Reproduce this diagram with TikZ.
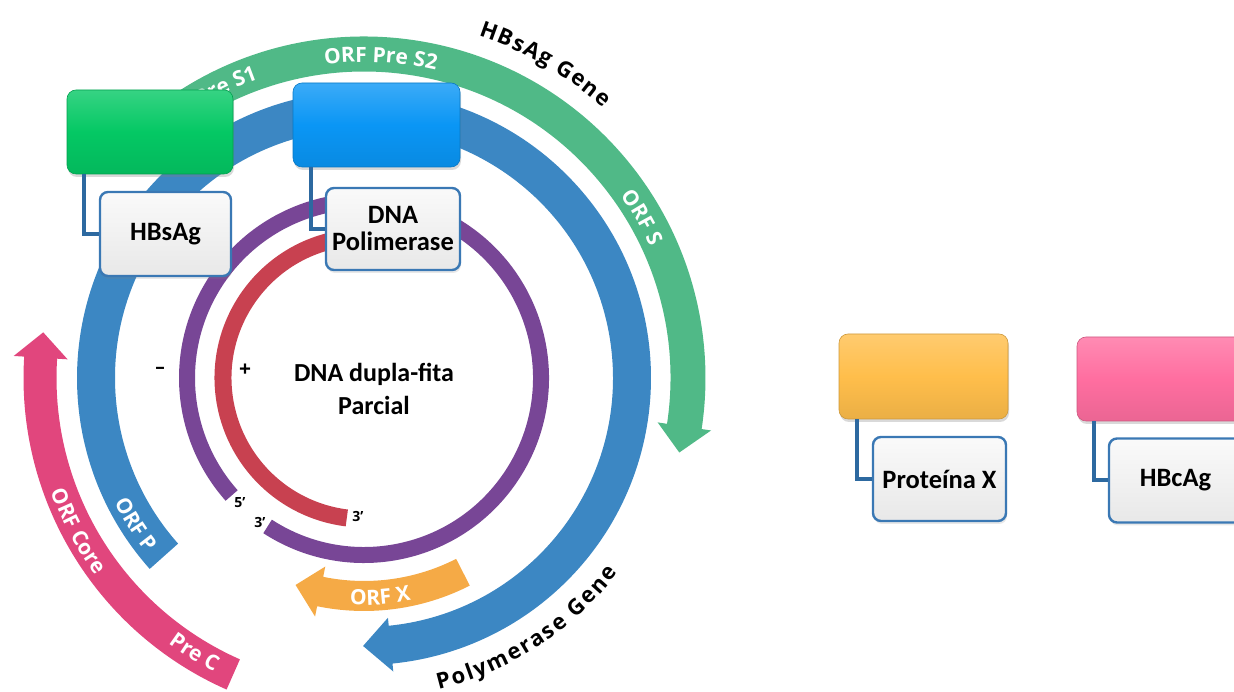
\documentclass[tikz,border=0pt]{standalone}
\usepackage{fontspec}
\setmainfont{Carlito}
\newfontfamily\ringfont{Open Sans}
\usetikzlibrary{decorations.text,shadows}

% ring colours
\definecolor{ringgreen}{RGB}{80,185,135}
\definecolor{ringblue}{RGB}{60,135,195}
\definecolor{ringpink}{RGB}{225,70,125}
\definecolor{ringorange}{RGB}{245,170,70}
\definecolor{strandminus}{RGB}{120,70,150}
\definecolor{strandplus}{RGB}{200,65,80}
% box colours
\definecolor{capgreen}{RGB}{4,200,100}
\definecolor{capblue}{RGB}{10,150,245}
\definecolor{caporange}{RGB}{255,190,75}
\definecolor{cappink}{RGB}{255,110,160}
\definecolor{linkblue}{RGB}{45,105,160}
\definecolor{tagborder}{RGB}{58,120,180}

\newcommand\ringtxt{\ringfont\bfseries\fontsize{21}{21}\selectfont}
\newcommand\genetxt{\ringfont\bfseries\fontsize{22}{22}\selectfont}
\newcommand\tagtxt{\bfseries\fontsize{26.5}{27}\selectfont}
\newcommand\strandtxt{\ringfont\bfseries\fontsize{14}{14}\selectfont}

% curved arrow band around the origin of the current scope
% #1 colour, #2 radius, #3 band width, #4 tail angle, #5 head base angle,
% #6 tip angle, #7 half width of the head
\newcommand\ringarrow[7]{%
  \pgfmathsetmacro\rao{#2+#3/2}%
  \pgfmathsetmacro\rai{#2-#3/2}%
  \pgfmathsetmacro\rhao{#2+#7}%
  \pgfmathsetmacro\rhai{#2-#7}%
  \fill[#1] (#4:\rao) arc[start angle=#4, end angle=#5, radius=\rao]
    -- (#5:\rhao) -- (#6:#2) -- (#5:\rhai) -- (#5:\rai)
    arc[start angle=#5, end angle=#4, radius=\rai] -- cycle;%
}

\begin{document}
\begin{tikzpicture}[x=1pt, y=1pt,
  capbox/.style={rounded corners=9pt, minimum width=166pt, minimum height=84pt,
    inner sep=0pt, draw=#1!80!black, line width=0.6pt,
    top color=#1!80!white, bottom color=#1!92!black, middle color=#1,
    drop shadow={shadow xshift=1pt, shadow yshift=-3pt, opacity=0.3}},
  tagbox/.style={rounded corners=8pt, minimum width=131pt, minimum height=84pt,
    inner sep=2pt, draw=tagborder, line width=2.4pt,
    top color=white!98!black, bottom color=white!91!black,
    font=\tagtxt, align=center,
    drop shadow={shadow xshift=1pt, shadow yshift=-3pt, opacity=0.18}},
  link/.style={draw=linkblue, line width=4pt},
  bandtext/.style={decorate, decoration={text along path, text align=center, text color=white}},
  genetext/.style={decorate, decoration={text along path, text align={fit to path}, text color=black}},
  strandlabel/.style={font=\strandtxt, inner sep=0pt}
]
\useasboundingbox (0,0) rectangle (1234,692);
\clip (0,0) rectangle (1234,692);

% ---- genome map ----
\begin{scope}[shift={(364,314)}]
  \ringarrow{ringgreen}{324}{35}{128}{-8.6}{-13.3}{27}
  \ringarrow{ringblue}{268}{38}{221.7}{-84.3}{-90.2}{27}
  \ringarrow{ringpink}{324}{33}{246.2}{176.4}{171.9}{27}
  \ringarrow{ringorange}{218}{30}{-63}{-101.6}{-108.3}{25.5}
  % DNA strands
  \draw[strandminus, line width=16pt] (237:177) arc[start angle=237, end angle=581.6, radius=177];
  \draw[strandplus, line width=17pt] (98:141) arc[start angle=98, end angle=263, radius=141];

  % labels written along the bands
  \path[bandtext, decoration={text={|\ringtxt|ORF Pre S2}}]
    (117:316) arc[start angle=117, end angle=57, radius=316];
  \path[bandtext, decoration={text align=right, text={|\ringtxt|Pre S1}}]
    (140:317) arc[start angle=140, end angle=109.5, radius=317];
  \path[bandtext, decoration={text={|\ringtxt|ORF S}}]
    (50:315) arc[start angle=50, end angle=10, radius=315];
  \path[bandtext, decoration={text={|\ringtxt|ORF P}}]
    (192.7:279) arc[start angle=192.7, end angle=232.7, radius=279];
  \path[bandtext, decoration={text={|\ringtxt|ORF Core}}]
    (188.2:333) arc[start angle=188.2, end angle=228.2, radius=333];
  \path[bandtext, decoration={text={|\ringtxt|Pre C}}]
    (223.3:330) arc[start angle=223.3, end angle=253.3, radius=330];
  \path[bandtext, decoration={text={|\ringtxt|ORF X}}]
    (-105.8:227) arc[start angle=-105.8, end angle=-65.8, radius=227];

  % gene names outside the rings
  \path[genetext, decoration={text={|\genetxt|HBsAg Gene}}]
    (71.5:361) arc[start angle=71.5, end angle=48.5, radius=361];
  \path[genetext, decoration={text={|\genetxt|Polymerase Gene}}]
    (-76.5:320) arc[start angle=-76.5, end angle=-37.5, radius=320];
\end{scope}

% strand signs and ends
\node[strandlabel, font=\ringfont\bfseries\fontsize{19}{19}\selectfont] (minus) at (160,322) {–};
\node[strandlabel, font=\ringfont\bfseries\fontsize{21}{21}\selectfont] (plus) at (245,322) {+};
\node[strandlabel] (five) at (240,189) {5’};
\node[strandlabel] (threeA) at (260,169) {3’};
\node[strandlabel] (threeB) at (358,175) {3’};

\node[font=\bfseries\fontsize{26}{33}\selectfont, align=center] (dsdna) at (374,303.5)
  {DNA dupla-fita\\Parcial};

% ---- protein boxes ----
\node[capbox=capgreen] (sbox) at (150,560) {};
\node[tagbox] (hbs) at (165.5,458) {HBsAg};
\node[capbox=capblue, minimum width=167pt] (pbox) at (376.5,567) {};
\node[tagbox, minimum width=134pt, minimum height=82pt] (pol) at (393,463) {DNA\\Polimerase};
\node[capbox=caporange, minimum width=169pt, minimum height=85pt] (xbox) at (923.5,315.5) {};
\node[tagbox, minimum width=133pt] (prx) at (939.5,213) {Proteína X};
\node[capbox=cappink, minimum width=169pt] (cbox) at (1161.5,313) {};
\node[tagbox, minimum width=133pt] (hbc) at (1175.5,211.5) {HBcAg};

\draw[link] ([xshift=17pt]sbox.south west) |- (hbs.west);
\draw[link] ([xshift=18pt]pbox.south west) |- (pol.west);
\draw[link] ([xshift=18pt]xbox.south west) |- (prx.west);
\draw[link] ([xshift=17pt]cbox.south west) |- (hbc.west);
\end{tikzpicture}
\end{document}
